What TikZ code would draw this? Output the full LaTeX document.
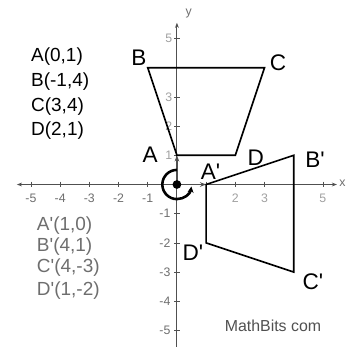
\documentclass[tikz,border=0pt]{standalone}
\usepackage{fontspec}
\setmainfont{Liberation Sans}[Ligatures=TeXOff]
\usepackage{tikz}
\usetikzlibrary{arrows.meta, positioning}
\definecolor{axisgray}{RGB}{80,80,80}
\definecolor{labelgray}{RGB}{110,110,110}
\definecolor{palegray}{RGB}{160,160,160}

\begin{document}
\begin{tikzpicture}[
  axis/.style={axisgray, line width=0.9pt},
  tickmark/.style={axisgray, line width=0.7pt},
  shapeline/.style={black, line width=1.6pt, line join=miter},
  vertex/.style={font=\fontsize{22}{24}\selectfont, inner sep=0pt},
  coordlist/.style={font=\fontsize{18.5}{20}\selectfont, anchor=west, inner sep=0pt},
  ticklabel/.style={font=\fontsize{12}{13}\selectfont, color=labelgray, inner sep=1pt},
  turn/.style={-{Stealth[length=6pt, width=6pt]}, line width=2.5pt},
  ray/.style={-{Stealth[length=6pt]}, line width=1.4pt, color=axisgray}
]
\useasboundingbox (-6.06,-5.55) rectangle (5.86,6.32);

% axes
\coordinate (O)  at (0,0);
\coordinate (xl) at (-5.48,0);
\coordinate (xr) at (5.48,0);
\coordinate (yb) at (0,-5.9);
\coordinate (yt) at (0,5.54);
\draw[axis, {Stealth[length=5pt]}-{Stealth[length=5pt]}] (xl) -- (xr);
\draw[axis, {Stealth[length=5pt]}-{Stealth[length=5pt]}] (yb) -- (yt);
\node[ticklabel, anchor=west] (xlab) at (5.52,0.05) {x};
\node[ticklabel] (ylab) at (0.4,5.85) {y};

\foreach \i in {-5,...,-1,1,2,3,4,5} {
  \draw[tickmark] (\i,0.1) -- (\i,-0.1);
  \draw[tickmark] (0.1,\i) -- (-0.1,\i);
}
\foreach \i in {-5,...,-1} {
  \node[ticklabel] at (\i,-0.47) {\i};
  \node[ticklabel, anchor=east] at (-0.18,\i) {\i};
}
\foreach \i in {2,3,5} \node[ticklabel, color=palegray] at (\i,-0.47) {\i};
\foreach \i in {1,2,3,5} \node[ticklabel, color=palegray, anchor=east] at (-0.12,\i) {\i};

% figure and its image
\coordinate (A) at (0,1);
\coordinate (B) at (-1,4);
\coordinate (C) at (3,4);
\coordinate (D) at (2,1);
\coordinate (Ap) at (1,0);
\coordinate (Bp) at (4,1);
\coordinate (Cp) at (4,-3);
\coordinate (Dp) at (1,-2);

\draw[ray] (O) -- (A);
\draw[ray] (O) -- (Ap);
\draw[shapeline] (A) -- (B) -- (C) -- (D) -- cycle;
\draw[shapeline] (Ap) -- (Bp) -- (Cp) -- (Dp) -- cycle;

% rotation about the origin
\fill (O) circle (0.15);
\draw[turn] ([shift={(90:0.5)}]O) arc[start angle=90, end angle=352, radius=0.5];

\node[vertex] (labA)  at (-0.92,1.03) {A};
\node[vertex] (labB)  at (-1.30,4.34) {B};
\node[vertex] (labC)  at (3.46,4.18)  {C};
\node[vertex] (labD)  at (2.70,0.93)  {D};
\node[vertex] (labAp) at (1.15,0.45)  {A'};
\node[vertex] (labBp) at (4.73,0.86)  {B'};
\node[vertex] (labCp) at (4.66,-3.33) {C'};
\node[vertex] (labDp) at (0.55,-2.35) {D'};

% coordinate lists
\node[coordlist] (lA) at (-5.0,4.38) {A(0,1)};
\node[coordlist] (lB) at (-5.0,3.52) {B(-1,4)};
\node[coordlist] (lC) at (-5.0,2.67) {C(3,4)};
\node[coordlist] (lD) at (-5.0,1.85) {D(2,1)};
\node[coordlist, color=labelgray] (lAp) at (-4.8,-1.42) {A'(1,0)};
\node[coordlist, color=labelgray] (lBp) at (-4.8,-2.13) {B'(4,1)};
\node[coordlist, color=labelgray] (lCp) at (-4.8,-2.85) {C'(4,-3)};
\node[coordlist, color=labelgray] (lDp) at (-4.8,-3.65) {D'(1,-2)};

\node[font=\fontsize{15.5}{17}\selectfont, color=axisgray] (credit) at (3.29,-4.83) {MathBits com};
\end{tikzpicture}
\end{document}
